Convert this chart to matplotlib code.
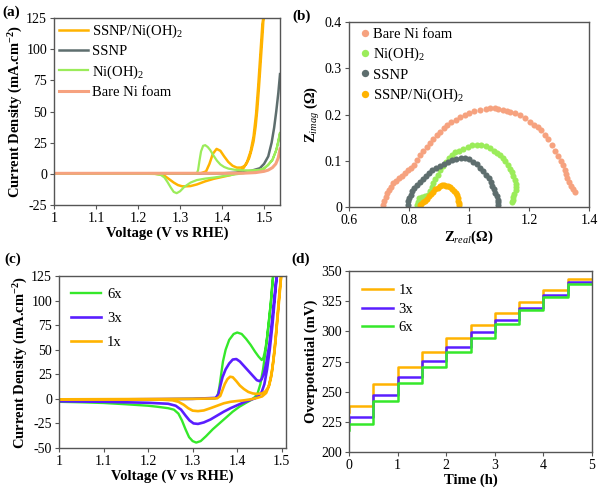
import matplotlib
matplotlib.use("Agg")
import matplotlib.pyplot as plt
from matplotlib.ticker import FixedLocator, FixedFormatter

plt.rcParams['font.family'] = ['Liberation Serif', 'DejaVu Serif']
plt.rcParams['mathtext.fontset'] = 'custom'
plt.rcParams['mathtext.rm'] = 'Liberation Serif'
plt.rcParams['mathtext.it'] = 'Liberation Serif:italic'
plt.rcParams['mathtext.bf'] = 'Liberation Serif:bold'
plt.rcParams['axes.unicode_minus'] = False

# ---------------- data: panel (a) ----------------
a_comp_v = [1.00, 1.20, 1.30, 1.350, 1.362, 1.370, 1.378, 1.387, 1.396, 1.405, 1.415, 1.425, 1.435,
            1.445, 1.452, 1.458, 1.465, 1.470, 1.475, 1.480, 1.484, 1.488, 1.491, 1.494, 1.497, 1.499,
            1.496, 1.492, 1.486, 1.481, 1.475, 1.468, 1.460, 1.452, 1.445, 1.437, 1.430, 1.420, 1.400,
            1.380, 1.360, 1.340, 1.325, 1.315, 1.305, 1.295, 1.285, 1.275, 1.265, 1.255, 1.240, 1.20, 1.00]
a_comp_j = [0.3, 0.3, 0.4, 0.5, 2, 8, 16, 20, 18.5, 14, 9.5, 6.5, 5,
            5, 6, 8, 13, 19, 26, 38, 52, 70, 85, 100, 115, 127,
            120, 100, 70, 48, 30, 18, 10, 5, 2.5, 1, 0, -1, -2.5,
            -4, -6, -8.5, -9.8, -10, -10, -9, -7, -4.5, -2, -0.5, 0, 0.2, 0.3]

a_ssnp_v = [1.00, 1.30, 1.40, 1.45, 1.47, 1.49, 1.50, 1.51, 1.518, 1.524, 1.529, 1.534, 1.538]
a_ssnp_j = [0.2, 0.2, 0.4, 1.2, 2.5, 4.5, 8, 14, 25, 37, 50, 65, 80]

a_ni_v = [1.00, 1.30, 1.340, 1.343, 1.346, 1.350, 1.355, 1.360, 1.366, 1.372, 1.380, 1.388, 1.396,
          1.405, 1.415, 1.430, 1.450, 1.470, 1.490, 1.500, 1.510, 1.520, 1.528, 1.534, 1.538,
          1.530, 1.520, 1.500, 1.480, 1.460, 1.440, 1.420, 1.400, 1.380, 1.360, 1.340, 1.325,
          1.310, 1.300, 1.292, 1.285, 1.278, 1.270, 1.263, 1.255, 1.240, 1.20, 1.00]
a_ni_j = [0.2, 0.2, 0.4, 3, 10, 18, 22.5, 23, 21.5, 19, 14.5, 10.5, 7.5,
          5.5, 4.2, 3.3, 2.8, 2.8, 3.2, 4.5, 7, 11.5, 18, 26, 33,
          20, 11, 4, 2, 1, 0, -1, -2, -3, -3.8, -5, -7,
          -10.5, -14, -15.5, -14.5, -11, -6.5, -3, -1, 0, 0.2, 0.2]

a_bare_v = [1.00, 1.45, 1.48, 1.50, 1.51, 1.52, 1.528, 1.534, 1.538]
a_bare_j = [0.4, 0.5, 1, 2, 3, 5, 8, 13, 20]

a_xticks = [1.0, 1.1, 1.2, 1.3, 1.4, 1.5]
a_xlabels = ['1', '1.1', '1.2', '1.3', '1.4', '1.5']
a_yticks = [-25, 0, 25, 50, 75, 100, 125]

# ---------------- data: panel (b) ----------------
b_bare_x = [0.714, 0.718, 0.722, 0.726, 0.732, 0.740, 0.748, 0.756, 0.765, 0.776, 0.787, 0.797,
            0.806, 0.815, 0.825, 0.837, 0.848, 0.859, 0.870, 0.881, 0.892, 0.903, 0.915, 0.928,
            0.941, 0.955, 0.970, 0.985, 1.000, 1.018, 1.037, 1.055, 1.070, 1.085, 1.098, 1.112,
            1.125, 1.137, 1.153, 1.170, 1.186, 1.203, 1.218, 1.230, 1.240, 1.253, 1.264, 1.276,
            1.288, 1.298, 1.306, 1.313, 1.320, 1.324, 1.328, 1.334, 1.340, 1.346, 1.353]
b_bare_y = [0.004, 0.012, 0.021, 0.030, 0.037, 0.044, 0.051, 0.057, 0.062, 0.067, 0.073, 0.079,
            0.084, 0.091, 0.101, 0.112, 0.121, 0.130, 0.138, 0.146, 0.155, 0.163, 0.170, 0.177,
            0.183, 0.188, 0.194, 0.199, 0.203, 0.207, 0.210, 0.212, 0.213, 0.213, 0.212, 0.210,
            0.208, 0.206, 0.203, 0.199, 0.192, 0.184, 0.178, 0.172, 0.166, 0.156, 0.146, 0.134,
            0.122, 0.111, 0.100, 0.090, 0.080, 0.071, 0.062, 0.053, 0.046, 0.039, 0.033]

b_ni_x = [0.826, 0.829, 0.834, 0.843, 0.853, 0.862, 0.869, 0.875, 0.881, 0.888, 0.895, 0.903,
          0.912, 0.922, 0.932, 0.942, 0.954, 0.967, 0.981, 0.996, 1.011, 1.026, 1.041, 1.056,
          1.070, 1.083, 1.094, 1.103, 1.112, 1.121, 1.131, 1.138, 1.144, 1.148, 1.152, 1.156,
          1.157, 1.155, 1.151, 1.148, 1.145, 1.142]
b_ni_y = [0.004, 0.011, 0.019, 0.022, 0.024, 0.026, 0.034, 0.043, 0.051, 0.060, 0.070, 0.080,
          0.089, 0.098, 0.106, 0.112, 0.118, 0.122, 0.126, 0.130, 0.133, 0.135, 0.134, 0.131,
          0.127, 0.122, 0.117, 0.112, 0.106, 0.099, 0.091, 0.083, 0.075, 0.066, 0.058, 0.050,
          0.044, 0.036, 0.029, 0.022, 0.016, 0.011]

b_ssnp_x = [0.796, 0.798, 0.801, 0.805, 0.811, 0.818, 0.826, 0.835, 0.845, 0.855, 0.866, 0.878,
            0.890, 0.903, 0.916, 0.930, 0.944, 0.958, 0.972, 0.986, 1.000, 1.014, 1.026, 1.038,
            1.048, 1.057, 1.065, 1.072, 1.078, 1.084, 1.088, 1.092, 1.095, 1.097, 1.098]
b_ssnp_y = [0.004, 0.012, 0.020, 0.027, 0.034, 0.041, 0.048, 0.055, 0.061, 0.067, 0.073, 0.079,
            0.084, 0.088, 0.093, 0.097, 0.101, 0.104, 0.105, 0.105, 0.103, 0.098, 0.092, 0.085,
            0.078, 0.070, 0.062, 0.054, 0.046, 0.038, 0.030, 0.023, 0.016, 0.010, 0.004]

b_comp_x = [0.835, 0.840, 0.846, 0.852, 0.859, 0.866, 0.873, 0.881, 0.888, 0.895, 0.902, 0.909,
            0.916, 0.923, 0.930, 0.937, 0.944, 0.950, 0.955, 0.959, 0.962, 0.964, 0.965, 0.965]
b_comp_y = [0.004, 0.007, 0.010, 0.014, 0.018, 0.023, 0.028, 0.033, 0.038, 0.042, 0.045, 0.047,
            0.047, 0.046, 0.045, 0.043, 0.040, 0.035, 0.030, 0.025, 0.019, 0.014, 0.009, 0.004]

b_xticks = [0.6, 0.8, 1.0, 1.2, 1.4]
b_xlabels = ['0.6', '0.8', '1', '1.2', '1.4']
b_yticks = [0, 0.1, 0.2, 0.3, 0.4]
b_ylabels = ['0', '0.1', '0.2', '0.3', '0.4']

# ---------------- data: panel (c) ----------------
c_6x_v = [1.00, 1.20, 1.30, 1.350, 1.356, 1.360, 1.364, 1.368, 1.374, 1.382, 1.392, 1.400, 1.410,
          1.420, 1.430, 1.440, 1.448, 1.455, 1.459, 1.463, 1.467, 1.471, 1.475, 1.478, 1.481,
          1.476, 1.470, 1.464, 1.458, 1.452, 1.446, 1.440, 1.432, 1.420, 1.405, 1.390, 1.375,
          1.360, 1.345, 1.330, 1.318, 1.308, 1.300, 1.292, 1.284, 1.276, 1.268, 1.258, 1.245,
          1.220, 1.200, 1.150, 1.100, 1.050, 1.000]
c_6x_j = [-1, -0.5, 0, 0.5, 3, 12, 25, 38, 50, 60, 66, 67.5, 66,
          61, 55, 48, 43, 39.5, 42, 50, 62, 78, 96, 113, 127,
          100, 75, 50, 30, 15, 6, 2, -1, -4, -8, -13, -19,
          -25, -31, -38, -43, -44.5, -43, -39, -31, -22, -15, -11, -9.5,
          -8, -7, -5.5, -4.2, -3.5, -3]

c_3x_v = [1.00, 1.30, 1.352, 1.358, 1.362, 1.367, 1.374, 1.382, 1.390, 1.398, 1.406, 1.416, 1.426,
          1.436, 1.444, 1.450, 1.455, 1.460, 1.466, 1.472, 1.477, 1.481, 1.485, 1.489,
          1.484, 1.479, 1.473, 1.467, 1.461, 1.455, 1.448, 1.440, 1.430, 1.415, 1.400, 1.385,
          1.370, 1.355, 1.340, 1.325, 1.312, 1.302, 1.293, 1.284, 1.274, 1.262, 1.245, 1.200,
          1.100, 1.000]
c_3x_j = [-1, 0, 1, 5, 13, 22, 30, 36, 40, 40.5, 38, 33, 28,
          23, 19, 18, 20, 26, 38, 55, 75, 93, 110, 127,
          100, 75, 50, 30, 15, 7, 3, 0.5, -1, -3.5, -6.5, -9.5,
          -13, -17, -21, -24, -25.5, -25, -22, -17, -11, -7, -5, -4,
          -3, -2.5]

c_1x_v = [1.00, 1.30, 1.355, 1.362, 1.367, 1.372, 1.378, 1.384, 1.390, 1.398, 1.406, 1.415, 1.425,
          1.435, 1.445, 1.455, 1.463, 1.470, 1.476, 1.481, 1.486, 1.490, 1.494, 1.499,
          1.494, 1.489, 1.484, 1.478, 1.472, 1.465, 1.456, 1.445, 1.430, 1.415, 1.400, 1.385,
          1.370, 1.355, 1.340, 1.325, 1.312, 1.300, 1.290, 1.280, 1.268, 1.255, 1.230, 1.100, 1.000]
c_1x_j = [-0.5, 0, 0.5, 3, 9, 15, 20, 22.5, 22, 18, 13.5, 10, 7,
          5.5, 5, 5.5, 7.5, 12, 22, 38, 60, 82, 104, 127,
          100, 75, 50, 28, 14, 6, 2.5, 1, -0.5, -1.5, -2.2, -3,
          -4.5, -7, -9.5, -11.8, -12.5, -12, -9.5, -6, -3, -1.5, -0.8, -0.5, -0.5]

c_xticks = [1.0, 1.1, 1.2, 1.3, 1.4, 1.5]
c_xlabels = ['1', '1.1', '1.2', '1.3', '1.4', '1.5']
c_yticks = [-50, -25, 0, 25, 50, 75, 100, 125]

# ---------------- data: panel (d) ----------------
d_time = [0, 0, 0.5, 1.0, 1.5, 2.0, 2.5, 3.0, 3.5, 4.0, 4.5, 5.0]
d_1x = [233, 238.5, 256.5, 270.3, 283, 294.3, 305, 315, 324.7, 334.2, 343.5, 343.5]
d_3x = [225, 229, 247.5, 262.4, 275.7, 287.3, 299.2, 309.4, 319.6, 330.3, 340.8, 340.8]
d_6x = [218, 223.2, 242.4, 257.3, 270.3, 283, 294.7, 306.5, 317.4, 328.4, 339.2, 339.2]
d_xticks = [0, 1, 2, 3, 4, 5]
d_yticks = [200, 225, 250, 275, 300, 325, 350]

# ---------------- styling ----------------
ORANGE = '#FFB300'
GRAY = '#5E6E6E'
LGREEN = '#9BEC5A'
SALMON = '#F6A27F'
GREEN = '#35E82A'
PURPLE = '#5A1EFF'
SPINE = '#555555'
TICK_FS = 10
LABEL_FS = 10.5
LEG_FS = 10.5

fig = plt.figure(figsize=(6.0, 4.97), dpi=100)


def style(ax):
    for s in ax.spines.values():
        s.set_color(SPINE)
        s.set_linewidth(1.0)
    ax.tick_params(direction='out', length=3, width=0.8, color=SPINE,
                   labelsize=TICK_FS, pad=2)


# (a)
axa = fig.add_axes([0.090, 0.5875, 0.3767, 0.3763])
axa.plot(a_comp_v, a_comp_j, color=ORANGE, lw=1.8, label='SSNP/Ni(OH)$_2$')
axa.plot(a_ssnp_v, a_ssnp_j, color=GRAY, lw=1.8, label='SSNP')
axa.plot(a_ni_v, a_ni_j, color=LGREEN, lw=1.6, label='Ni(OH)$_2$')
axa.plot(a_bare_v, a_bare_j, color=SALMON, lw=2.2, label='Bare Ni foam')
axa.set_xlim(1.0, 1.538)
axa.set_ylim(-25, 125)
axa.xaxis.set_major_locator(FixedLocator(a_xticks))
axa.xaxis.set_major_formatter(FixedFormatter(a_xlabels))
axa.yaxis.set_major_locator(FixedLocator(a_yticks))
axa.set_xlabel('Voltage (V vs RHE)', fontsize=LABEL_FS, fontweight='bold', labelpad=1)
axa.set_ylabel('Current Density (mA.cm$^{\\mathbf{-2}}$)', fontsize=LABEL_FS, fontweight='bold', labelpad=1)
style(axa)
axa.legend(loc='upper left', bbox_to_anchor=(-0.025, 1.03), frameon=False, fontsize=LEG_FS,
           handlelength=2.0, handletextpad=0.3, labelspacing=0.35, borderaxespad=0.3)

# (b)
axb = fig.add_axes([0.5817, 0.5835, 0.40, 0.3722])
ms = 4.4
axb.plot(b_bare_x, b_bare_y, 'o', color=SALMON, ms=ms, mew=0, label='Bare Ni foam')
axb.plot(b_ni_x, b_ni_y, 'o', color=LGREEN, ms=ms, mew=0, label='Ni(OH)$_2$')
axb.plot(b_ssnp_x, b_ssnp_y, 'o', color=GRAY, ms=ms, mew=0, label='SSNP')
axb.plot(b_comp_x, b_comp_y, 'o', color=ORANGE, ms=ms, mew=0, label='SSNP/Ni(OH)$_2$')
axb.set_xlim(0.6, 1.4)
axb.set_ylim(0, 0.4)
axb.xaxis.set_major_locator(FixedLocator(b_xticks))
axb.xaxis.set_major_formatter(FixedFormatter(b_xlabels))
axb.yaxis.set_major_locator(FixedLocator(b_yticks))
axb.yaxis.set_major_formatter(FixedFormatter(b_ylabels))
axb.set_xlabel('$\\mathbf{Z}_{\\mathit{real}}$(Ω)', fontsize=LABEL_FS, fontweight='bold', labelpad=1)
axb.set_ylabel('$\\mathbf{Z}_{\\mathit{imag}}$ (Ω)', fontsize=LABEL_FS, fontweight='bold', labelpad=2)
style(axb)
axb.legend(loc='upper left', bbox_to_anchor=(0.0, 1.025), frameon=False, fontsize=LEG_FS,
           handlelength=0.8, handletextpad=0.15, labelspacing=0.35, borderaxespad=0.3,
           markerscale=1.2)

# (c)
axc = fig.add_axes([0.0983, 0.0986, 0.378, 0.3461])
axc.plot(c_6x_v, c_6x_j, color=GREEN, lw=1.7, label='6x')
axc.plot(c_3x_v, c_3x_j, color=PURPLE, lw=1.9, label='3x')
axc.plot(c_1x_v, c_1x_j, color=ORANGE, lw=1.9, label='1x')
axc.set_xlim(1.0, 1.509)
axc.set_ylim(-50, 125)
axc.xaxis.set_major_locator(FixedLocator(c_xticks))
axc.xaxis.set_major_formatter(FixedFormatter(c_xlabels))
axc.yaxis.set_major_locator(FixedLocator(c_yticks))
axc.set_xlabel('Voltage (V vs RHE)', fontsize=LABEL_FS, fontweight='bold', labelpad=1)
axc.set_ylabel('Current Density (mA.cm$^{\\mathbf{-2}}$)', fontsize=LABEL_FS, fontweight='bold', labelpad=1)
style(axc)
axc.legend(loc='upper left', bbox_to_anchor=(0.0, 1.0), frameon=False, fontsize=LEG_FS,
           handlelength=2.1, handletextpad=0.4, labelspacing=0.75, borderaxespad=0.4)

# (d)
axd = fig.add_axes([0.5817, 0.0905, 0.405, 0.3642])
axd.step(d_time, d_1x, where='post', color=ORANGE, lw=1.8, label='1x')
axd.step(d_time, d_3x, where='post', color=PURPLE, lw=1.8, label='3x')
axd.step(d_time, d_6x, where='post', color=GREEN, lw=1.8, label='6x')
axd.set_xlim(0, 5)
axd.set_ylim(200, 350)
axd.xaxis.set_major_locator(FixedLocator(d_xticks))
axd.yaxis.set_major_locator(FixedLocator(d_yticks))
axd.set_xlabel('Time (h)', fontsize=LABEL_FS, fontweight='bold', labelpad=1)
axd.set_ylabel('Overpotential (mV)', fontsize=LABEL_FS, fontweight='bold', labelpad=2)
style(axd)
axd.legend(loc='upper left', bbox_to_anchor=(0.0, 1.0), frameon=False, fontsize=LEG_FS,
           handlelength=2.1, handletextpad=0.4, labelspacing=0.35, borderaxespad=0.5)

# panel letters
fig.text(0.004, 0.988, '(a)', fontsize=11, fontweight='bold', va='top', ha='left')
fig.text(0.488, 0.980, '(b)', fontsize=11, fontweight='bold', va='top', ha='left')
fig.text(0.008, 0.492, '(c)', fontsize=11, fontweight='bold', va='top', ha='left')
fig.text(0.486, 0.492, '(d)', fontsize=11, fontweight='bold', va='top', ha='left')

fig.savefig('out.png', dpi=100)
